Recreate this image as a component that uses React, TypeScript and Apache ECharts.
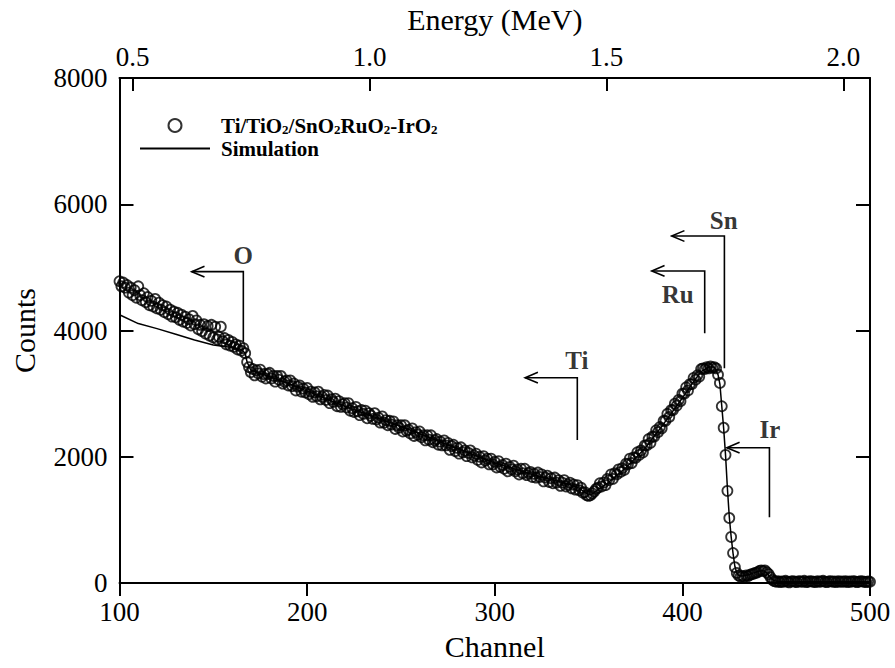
import React, { useEffect, useRef } from "react";
import * as echarts from "echarts";

// ---------- data ----------
const firstChannel = 100;
// measured RBS counts, one value per channel (100 .. 500)
const measuredCounts = [
  4780, 4700, 4760, 4680, 4720, 4600, 4680, 4560, 4640, 4520,
  4700, 4560, 4480, 4590, 4450, 4530, 4400, 4470, 4380, 4500,
  4350, 4440, 4330, 4400, 4290, 4380, 4260, 4330, 4220, 4300,
  4210, 4280, 4170, 4250, 4140, 4220, 4120, 4180, 4080, 4230,
  4100, 4160, 4020, 4090, 3990, 4100, 3950, 4070, 3920, 4090,
  3890, 4060, 3860, 3900, 4060, 3830, 3880, 3780, 3850, 3760,
  3820, 3740, 3780, 3700, 3760, 3680, 3720, 3640, 3500, 3420,
  3340, 3390, 3290, 3370, 3320, 3380, 3270, 3310, 3240, 3310,
  3330, 3240, 3280, 3190, 3280, 3220, 3280, 3160, 3190, 3210,
  3130, 3210, 3120, 3160, 3050, 3110, 3130, 3030, 3080, 3020,
  3090, 2990, 3030, 2950, 3020, 2960, 3030, 2910, 2950, 2980,
  2900, 2970, 2850, 2910, 2870, 2920, 2800, 2880, 2790, 2830,
  2850, 2780, 2850, 2730, 2770, 2710, 2790, 2720, 2660, 2740,
  2680, 2730, 2610, 2690, 2650, 2600, 2690, 2590, 2620, 2540,
  2640, 2540, 2580, 2500, 2570, 2510, 2560, 2440, 2500, 2460,
  2500, 2400, 2500, 2410, 2430, 2370, 2450, 2330, 2390, 2350,
  2400, 2310, 2340, 2260, 2340, 2270, 2340, 2230, 2260, 2280,
  2190, 2240, 2180, 2260, 2180, 2220, 2110, 2170, 2190, 2090,
  2140, 2050, 2150, 2070, 2100, 2010, 2060, 2100, 1990, 2020,
  2050, 1950, 2000, 1910, 2010, 1940, 1970, 1880, 1970, 1880,
  1920, 1830, 1930, 1840, 1870, 1810, 1890, 1770, 1840, 1800,
  1860, 1770, 1800, 1720, 1810, 1740, 1810, 1710, 1740, 1760,
  1680, 1730, 1670, 1750, 1680, 1720, 1610, 1670, 1700, 1600,
  1660, 1580, 1670, 1590, 1630, 1540, 1590, 1630, 1530, 1560,
  1590, 1500, 1560, 1480, 1550, 1470, 1510, 1430, 1440, 1390,
  1380, 1390, 1420, 1450, 1490, 1510, 1580, 1530, 1590, 1550,
  1650, 1630, 1720, 1650, 1740, 1720, 1800, 1760, 1820, 1790,
  1890, 1880, 1970, 1900, 1990, 1980, 2070, 2030, 2100, 2070,
  2180, 2180, 2280, 2220, 2320, 2320, 2420, 2390, 2470, 2450,
  2570, 2570, 2680, 2630, 2740, 2740, 2840, 2810, 2900, 2880,
  3000, 3000, 3100, 3050, 3150, 3150, 3250, 3220, 3290, 3270,
  3390, 3400, 3390, 3420, 3400, 3430, 3410, 3420, 3400, 3300,
  3170, 2800, 2460, 2030, 1460, 1030, 730, 475, 250, 160,
  120, 100, 110, 100, 120, 110, 130, 140, 150, 160,
  170, 190, 200, 190, 200, 170, 140, 90, 50, 30,
  20, 30, 15, 25, 20, 35, 20, 10, 25, 30,
  20, 15, 30, 25, 20, 35, 15, 20, 30, 25,
  20, 15, 30, 20, 25, 35, 20, 15, 25, 30,
  20, 25, 15, 30, 20, 25, 20, 30, 15, 25,
  20, 30, 25, 15, 20, 30, 25, 20, 15, 25,
  20,
];

// simulation curve
const simChannels = [
  100, 110, 120, 130, 140, 150, 160, 165, 167, 168,
  170, 175, 180, 190, 200, 220, 250, 280, 300, 320,
  340, 345, 348, 350, 352, 355, 360, 370, 380, 390,
  400, 405, 410, 414, 417, 419, 420, 421, 422, 423,
  424, 425, 426, 427, 428, 429, 430, 432, 435, 438,
  441, 443, 445, 447, 449, 452, 500,
];
const simCounts = [
  4250, 4110, 4030, 3940, 3850, 3770, 3730, 3700, 3640, 3500,
  3370, 3320, 3270, 3160, 3040, 2800, 2480, 2130, 1900, 1720,
  1560, 1500, 1440, 1400, 1410, 1480, 1580, 1830, 2130, 2520,
  2930, 3150, 3350, 3420, 3420, 3300, 3150, 2800, 2450, 2030,
  1500, 1050, 730, 470, 260, 160, 120, 110, 130, 160,
  190, 195, 160, 80, 35, 20, 20,
];

// axes
const channelTicks = [100, 200, 300, 400, 500];
const countTicks = [0, 2000, 4000, 6000, 8000];
const energyAtChannelMin = 0.4723;
const energyAtChannelMax = 2.0563;
const energyTicks = [0.5, 1.0, 1.5, 2.0];

// element edge annotations
const annoNames = ["O", "Ti", "Ru", "Sn", "Ir"];
const annoEdgeChannel = [166, 344, 411.9, 422.4, 446.4];
const annoTopCount = [4932, 3252, 4943, 5497, 2143];
const annoBottomCount = [3823, 2265, 3956, 3401, 1041];
const annoArrowTipChannel = [138.5, 316.2, 383.7, 394.3, 423.7];
const annoLabelChannel = [166, 343.7, 397.5, 422, 446.6];
const annoLabelCount = [5196, 3517, 4573, 5739, 2424];

const seriesName = "Ti/TiO2/SnO2RuO2-IrO2";
const simName = "Simulation";

const FONT = "'Liberation Serif', 'Times New Roman', serif";

export default function App() {
  const ref = useRef<HTMLDivElement>(null);

  useEffect(() => {
    if (!ref.current) return;
    const chart = echarts.init(ref.current, null, { renderer: "svg" });

    const measured = measuredCounts.map((c, i) => [firstChannel + i, c]);
    const sim = simChannels.map((ch, i) => [ch, simCounts[i]]);

    const barbCh = 6.8;
    const barbCt = 85;
    const annoLines: any[] = [];
    annoNames.forEach((_, i) => {
      annoLines.push({
        coords: [
          [annoEdgeChannel[i], annoBottomCount[i]],
          [annoEdgeChannel[i], annoTopCount[i]],
          [annoArrowTipChannel[i], annoTopCount[i]],
        ],
      });
      annoLines.push({
        coords: [
          [annoArrowTipChannel[i] + barbCh, annoTopCount[i] + barbCt],
          [annoArrowTipChannel[i], annoTopCount[i]],
          [annoArrowTipChannel[i] + barbCh, annoTopCount[i] - barbCt],
        ],
      });
    });

    const axisLine = { show: true, onZero: false, lineStyle: { color: "#000", width: 2 } };
    const labelBase = { color: "#000", fontFamily: FONT, fontSize: 27 };
    const nameBase = { color: "#000", fontFamily: FONT, fontSize: 30 };
    const noMinor = { show: false };
    const plain = (v: number) => String(v);
    const tickLine = { color: "#000", width: 2 };
    const cMin = channelTicks[0];
    const cMax = channelTicks[channelTicks.length - 1];
    const yMin = countTicks[0];
    const yMax = countTicks[countTicks.length - 1];

    chart.setOption({
      animation: false,
      backgroundColor: "#fff",
      textStyle: { fontFamily: FONT },
      grid: {
        left: 119.5,
        right: 25,
        top: 78,
        bottom: 85,
        containLabel: false,
        outerBoundsMode: "none",
      },
      legend: {
        data: [
          { name: seriesName },
          { name: simName, itemStyle: { opacity: 0 } },
        ],
        orient: "vertical",
        left: 139,
        top: 115,
        padding: 0,
        itemWidth: 70,
        itemHeight: 13,
        itemGap: 2,
        selectedMode: false,
        formatter: (name: string) =>
          name === seriesName ? "Ti/TiO{s|2}/SnO{s|2}RuO{s|2}-IrO{s|2}" : name,
        textStyle: {
          color: "#000",
          fontFamily: FONT,
          fontSize: 21,
          fontWeight: "bold",
          lineHeight: 21,
          padding: [0, 0, 0, 6],
          rich: {
            s: {
              color: "#000",
              fontFamily: FONT,
              fontSize: 13,
              fontWeight: "bold",
              lineHeight: 9,
              verticalAlign: "bottom",
            },
          },
        },
      },
      xAxis: [
        {
          type: "value",
          position: "bottom",
          min: cMin,
          max: cMax,
          interval: channelTicks[1] - channelTicks[0],
          name: "Channel",
          nameLocation: "middle",
          nameGap: 48,
          nameTextStyle: nameBase,
          axisLine,
          axisTick: {
            show: true,
            inside: false,
            length: 13,
            customValues: channelTicks,
            lineStyle: tickLine,
          },
          minorTick: noMinor,
          minorSplitLine: noMinor,
          axisLabel: {
            ...labelBase,
            margin: 15,
            customValues: channelTicks,
            formatter: plain,
          },
          splitLine: { show: false },
        },
        {
          type: "value",
          position: "top",
          min: energyAtChannelMin,
          max: energyAtChannelMax,
          name: "Energy (MeV)",
          nameLocation: "middle",
          nameGap: 44,
          nameTextStyle: nameBase,
          axisLine,
          axisTick: {
            show: true,
            inside: true,
            length: 13,
            customValues: energyTicks,
            lineStyle: tickLine,
          },
          minorTick: noMinor,
          axisLabel: {
            ...labelBase,
            margin: 8,
            customValues: energyTicks,
            formatter: (v: number) => v.toFixed(1),
          },
          splitLine: { show: false },
        },
      ],
      yAxis: [
        {
          type: "value",
          position: "left",
          min: yMin,
          max: yMax,
          interval: countTicks[1] - countTicks[0],
          name: "Counts",
          nameLocation: "middle",
          nameGap: 80,
          nameRotate: 90,
          nameTextStyle: nameBase,
          axisLine,
          axisTick: { show: true, inside: true, length: 14, lineStyle: tickLine },
          minorTick: noMinor,
          axisLabel: { ...labelBase, margin: 12, showMinLabel: true, showMaxLabel: true, formatter: plain },
          splitLine: { show: false },
        },
        {
          type: "value",
          position: "right",
          min: yMin,
          max: yMax,
          interval: countTicks[1] - countTicks[0],
          axisLine,
          axisTick: { show: true, inside: true, length: 14, lineStyle: tickLine },
          minorTick: noMinor,
          axisLabel: { show: false },
          splitLine: { show: false },
        },
      ],
      series: [
        {
          name: seriesName,
          type: "scatter",
          xAxisIndex: 0,
          yAxisIndex: 0,
          data: measured,
          symbol: "circle",
          symbolSize: 10,
          itemStyle: { color: "rgba(255,255,255,0)", borderColor: "#000", borderWidth: 1.8 },
          silent: true,
          z: 2,
        },
        {
          name: simName,
          type: "line",
          xAxisIndex: 0,
          yAxisIndex: 0,
          data: sim,
          symbol: "none",
          showSymbol: false,
          smooth: false,
          lineStyle: { color: "#000", width: 1.5 },
          silent: true,
          z: 3,
        },
        {
          name: "edges",
          type: "lines",
          coordinateSystem: "cartesian2d",
          xAxisIndex: 0,
          yAxisIndex: 0,
          polyline: true,
          silent: true,
          lineStyle: { color: "#000", width: 1.6, opacity: 1 },
          data: annoLines,
          z: 4,
        },
        {
          name: "edgeLabels",
          type: "scatter",
          xAxisIndex: 0,
          yAxisIndex: 0,
          symbol: "circle",
          symbolSize: 1,
          silent: true,
          itemStyle: { color: "rgba(0,0,0,0)" },
          label: {
            show: true,
            position: "inside",
            formatter: "{b}",
            color: "#000",
            fontFamily: FONT,
            fontSize: 25,
            fontWeight: "bold",
          },
          data: annoNames.map((n, i) => ({
            name: n,
            value: [annoLabelChannel[i], annoLabelCount[i]],
          })),
          z: 5,
        },
      ],
    });

    return () => chart.dispose();
  }, []);

  return (
    <div
      ref={ref}
      style={{ position: "absolute", left: 0, top: 0, width: 895, height: 668, background: "#fff" }}
    />
  );
}
